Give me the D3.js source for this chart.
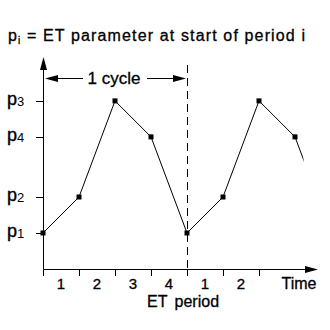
<!DOCTYPE html>
<html>
<head>
<meta charset="utf-8">
<script src="https://cdn.jsdelivr.net/npm/d3@7"></script>
<style>
body { margin: 0; background: #fff; }
text { font-family: "Liberation Sans", Arial, sans-serif; fill: #000; }
</style>
</head>
<body>
<div id="chart"></div>
<script>
// data
var level_names = ["p1", "p2", "p4", "p3"];
var level_values = [1, 2, 3.67, 4.67];
var series_levels = ["p1", "p2", "p3", "p4", "p1", "p2", "p3", "p4", "p1"];
var period_labels = ["1", "2", "3", "4", "1", "2"];

var width = 330, height = 330;
var level_dict = {};
level_names.forEach((n, i) => { level_dict[n] = level_values[i]; });

var svg = d3.select("#chart").append("svg")
    .attr("width", width)
    .attr("height", height);

var x = d3.scaleLinear().domain([0, 8]).range([43, 331]);
var y = d3.scaleLinear().domain([0, 5]).range([269, 89]);

var defs = svg.append("defs");
defs.append("clipPath").attr("id", "clip")
    .append("rect").attr("x", 0).attr("y", 0).attr("width", 303.5).attr("height", height);

function arrow_head(x1, y1, dir){
    // filled triangle, tip at (x1,y1)
    let L = 13, W = 3.5, pts;
    if(dir === "up") pts = [[x1, y1], [x1 - W, y1 + L], [x1 + W, y1 + L]];
    if(dir === "right") pts = [[x1, y1], [x1 - L, y1 - W], [x1 - L, y1 + W]];
    if(dir === "left") pts = [[x1, y1], [x1 + L, y1 - W], [x1 + L, y1 + W]];
    svg.append("polygon").attr("points", pts.map(p => p.join(",")).join(" ")).attr("fill", "#000");
}

// title
var title = svg.append("text").attr("x", 8).attr("y", 41)
    .style("font-size", "16px").style("stroke", "#000").style("stroke-width", 0.3);
title.append("tspan").text("p");
title.append("tspan").attr("dy", 3).style("font-size", "10px").text("i");
title.append("tspan").attr("dy", -3).text(" = ET parameter at start of period i");
title.attr("textLength", 297).attr("lengthAdjust", "spacing");

// y axis
svg.append("line").attr("x1", 43.5).attr("x2", 43.5).attr("y1", 66).attr("y2", 276)
    .attr("stroke", "#000");
arrow_head(43.5, 57, "up");

// x axis
svg.append("line").attr("x1", 43).attr("x2", 306).attr("y1", 269.5).attr("y2", 269.5)
    .attr("stroke", "#000");
arrow_head(318, 269.5, "right");

var tick_idx = d3.range(1, 7);
svg.selectAll(".xtick").data(tick_idx).enter().append("line")
    .attr("class", "xtick")
    .attr("x1", d => Math.round(x(d)) + 0.5).attr("x2", d => Math.round(x(d)) + 0.5)
    .attr("y1", 269).attr("y2", 276)
    .attr("stroke", "#000");

svg.selectAll(".xlab").data(period_labels).enter().append("text")
    .attr("class", "xlab")
    .attr("x", (d, i) => x(i + 0.5))
    .attr("y", 289)
    .attr("text-anchor", "middle")
    .style("font-size", "15px").style("stroke", "#000").style("stroke-width", 0.3)
    .text(d => d);

svg.append("text").attr("x", 299).attr("y", 289).attr("text-anchor", "middle")
    .style("font-size", "16px").style("stroke", "#000").style("stroke-width", 0.3).text("Time");
svg.append("text").attr("x", 183).attr("y", 307).attr("text-anchor", "middle")
    .style("font-size", "16px").style("word-spacing", "3px")
    .style("stroke", "#000").style("stroke-width", 0.3).text("ET period");

// y ticks and labels
svg.selectAll(".ytick").data(level_names).enter().append("line")
    .attr("class", "ytick")
    .attr("x1", 36).attr("x2", 43)
    .attr("y1", d => Math.round(y(level_dict[d])) + 0.5)
    .attr("y2", d => Math.round(y(level_dict[d])) + 0.5)
    .attr("stroke", "#000");

var ylab = svg.selectAll(".ylab").data(level_names).enter().append("text")
    .attr("class", "ylab")
    .attr("x", 7)
    .attr("y", d => y(level_dict[d]) + 4);
ylab.append("tspan").style("font-size", "18px").style("stroke", "#000").style("stroke-width", 0.4).text("p");
ylab.append("tspan").attr("dy", 1).style("font-size", "13px").text(d => d.slice(1));

// cycle divider
svg.append("line").attr("x1", 187.5).attr("x2", 187.5).attr("y1", 65).attr("y2", 276)
    .attr("stroke", "#000").attr("stroke-dasharray", "8,5");

// 1 cycle arrow
svg.append("line").attr("x1", 55).attr("x2", 83).attr("y1", 78.5).attr("y2", 78.5).attr("stroke", "#000");
svg.append("line").attr("x1", 147).attr("x2", 175).attr("y1", 78.5).attr("y2", 78.5).attr("stroke", "#000");
arrow_head(45, 78.5, "left");
arrow_head(186, 78.5, "right");
svg.append("text").attr("x", 114).attr("y", 84).attr("text-anchor", "middle")
    .style("font-size", "17px").style("stroke", "#000").style("stroke-width", 0.3).text("1 cycle");

// series line
var pts = series_levels.map((d, i) => [x(i), y(level_dict[d])]);
svg.append("path")
    .attr("d", d3.line()(pts))
    .attr("fill", "none")
    .attr("stroke", "#000")
    .attr("stroke-width", 1)
    .attr("clip-path", "url(#clip)");

svg.selectAll(".pt").data(pts.slice(0, 8)).enter().append("rect")
    .attr("class", "pt")
    .attr("x", d => d[0] - 2.5).attr("y", d => d[1] - 2.5)
    .attr("width", 5).attr("height", 5)
    .attr("fill", "#000");
</script>
</body>
</html>
